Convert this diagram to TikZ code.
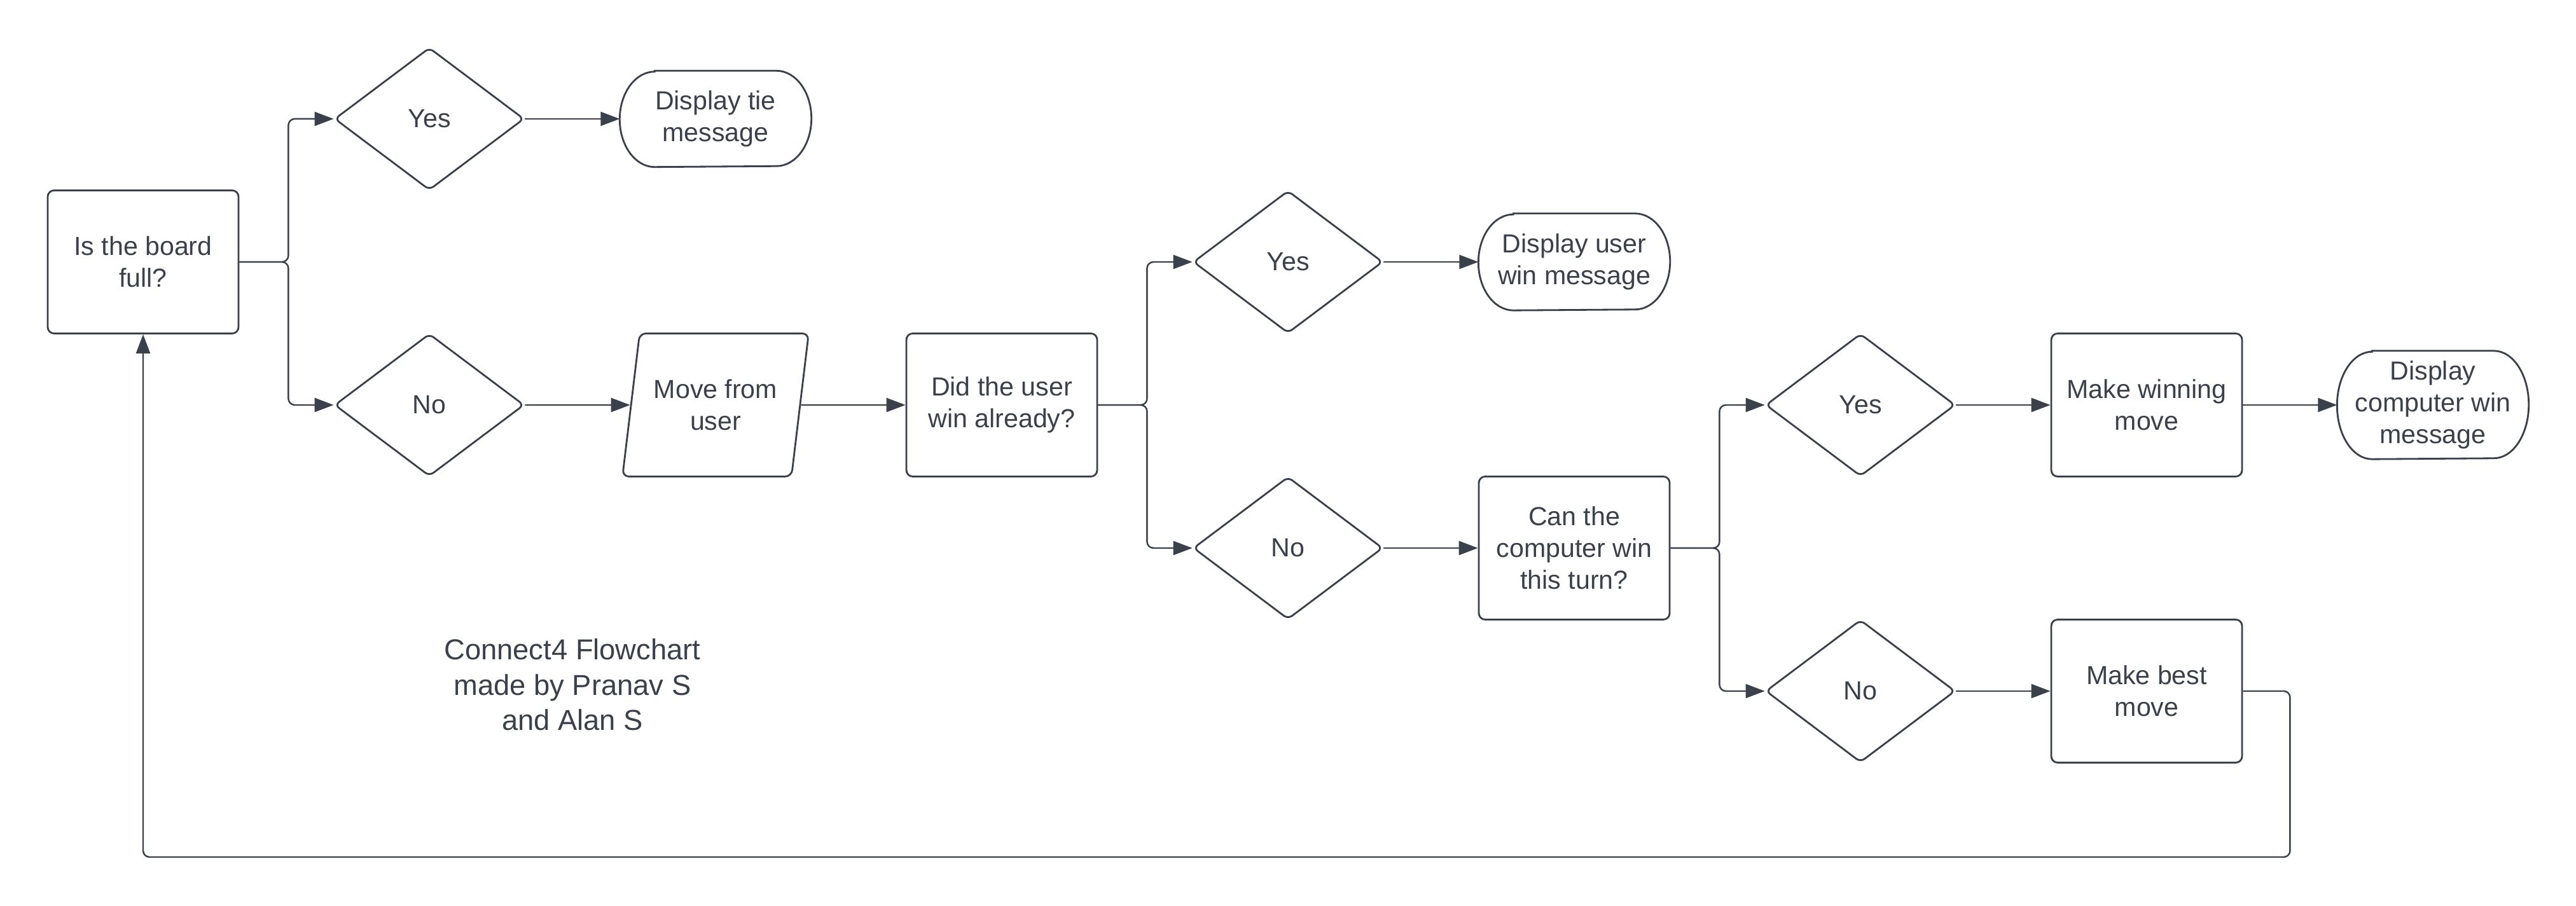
\documentclass[tikz,border=0pt]{standalone}
\usepackage{fontspec}
\setmainfont{Liberation Sans}
\usepackage{xcolor}
\usetikzlibrary{shapes.geometric,arrows.meta}

\definecolor{ink}{HTML}{3A414A}

\tikzset{
  base/.style={draw=ink, text=ink, line width=0.8pt, align=center, inner sep=2pt},
  process/.style={base, rectangle, rounded corners=0.1cm, minimum width=3cm, minimum height=2.25cm},
  decision/.style={base, diamond, rounded corners=0.08cm, minimum width=2.98cm, minimum height=2.24cm},
  io/.style={base, trapezium, trapezium left angle=76, trapezium right angle=104,
    trapezium stretches=true, rounded corners=0.1cm, minimum width=2.94cm, minimum height=2.25cm},
  terminal/.style={text=ink, align=center, inner sep=0pt, minimum width=3cm, minimum height=1.5cm},
  caption/.style={text=ink, align=center, font=\fontsize{12.9}{15.8}\selectfont},
  flow/.style={draw=ink, line width=0.7pt, -{Triangle[length=0.3cm,width=0.22cm]}},
}

% stadium outline round a terminal node: name, half height
\newcommand{\stadium}[2]{%
  \draw[ink, line width=0.8pt] ([xshift=0.55cm]#1.north west) -- ([xshift=-0.55cm]#1.north east)
    arc[start angle=90, end angle=-90, x radius=0.55cm, y radius=#2]
    -- ([xshift=0.55cm]#1.south west)
    arc[start angle=270, end angle=90, x radius=0.55cm, y radius=#2] -- cycle;}

\begin{document}
\begin{tikzpicture}[x=4.5cm, y=2.25cm, font=\fontsize{11.7}{14.3}\selectfont]

  \useasboundingbox (-0.5,-4.5022) rectangle (8.5,1.8311);

  % Nodes

  \node[process]  (full)     at (0,0)  {Is the board\\full?} ; %
  \node[decision] (yes1)     at (1,1)  {Yes} ; %
  \node[terminal] (tie)      at (2,1)  {Display tie\\message} ; %
  \node[decision] (no1)      at (1,-1) {No} ; %
  \node[io]       (move)     at (2,-1) {Move from\\user} ; %
  \node[process]  (userdone) at (3,-1) {Did the user\\win already?} ; %
  \node[decision] (yes2)     at (4,0)  {Yes} ; %
  \node[terminal, minimum height=1.51cm] (userwin) at (5,0) {Display user\\win message} ; %
  \node[decision] (no2)      at (4,-2) {No} ; %
  \node[process]  (canwin)   at (5,-2) {Can the\\computer win\\this turn?} ; %
  \node[decision] (yes3)     at (6,-1) {Yes} ; %
  \node[process]  (winmove)  at (7,-1) {Make winning\\move} ; %
  \node[terminal, minimum height=1.69cm] (compwin) at (8,-1) {Display\\computer win\\message} ; %
  \node[decision] (no3)      at (6,-3) {No} ; %
  \node[process]  (bestmove) at (7,-3) {Make best\\move} ; %
  \node[caption]  (credits)  at (1.5,-2.955) {Connect4 Flowchart\\made by Pranav S\\and Alan S} ; %

  \stadium{tie}{0.75cm}
  \stadium{userwin}{0.755cm}
  \stadium{compwin}{0.845cm}

  % Edges

  \draw[flow, rounded corners=0.1cm] (full.east) -- ++(0.77cm,0) |- (yes1.west);
  \draw[flow, rounded corners=0.1cm] (full.east) -- ++(0.77cm,0) |- (no1.west);
  \draw[flow] (yes1) -- (tie); \draw[flow] (no1) -- (move);
  \draw[flow] (move) -- (userdone);

  \draw[flow, rounded corners=0.1cm] (userdone.east) -- ++(0.77cm,0) |- (yes2.west);
  \draw[flow, rounded corners=0.1cm] (userdone.east) -- ++(0.77cm,0) |- (no2.west);
  \draw[flow] (yes2) -- (userwin); \draw[flow] (no2) -- (canwin);

  \draw[flow, rounded corners=0.1cm] (canwin.east) -- ++(0.77cm,0) |- (yes3.west);
  \draw[flow, rounded corners=0.1cm] (canwin.east) -- ++(0.77cm,0) |- (no3.west);
  \draw[flow] (yes3) -- (winmove); \draw[flow] (winmove) -- (compwin);
  \draw[flow] (no3) -- (bestmove);

  % back to the start
  \draw[flow, rounded corners=0.1cm] (bestmove.east) -- ++(0.74cm,0) -- ++(0,-2.61cm) -| (full.south);

\end{tikzpicture}
\end{document}
